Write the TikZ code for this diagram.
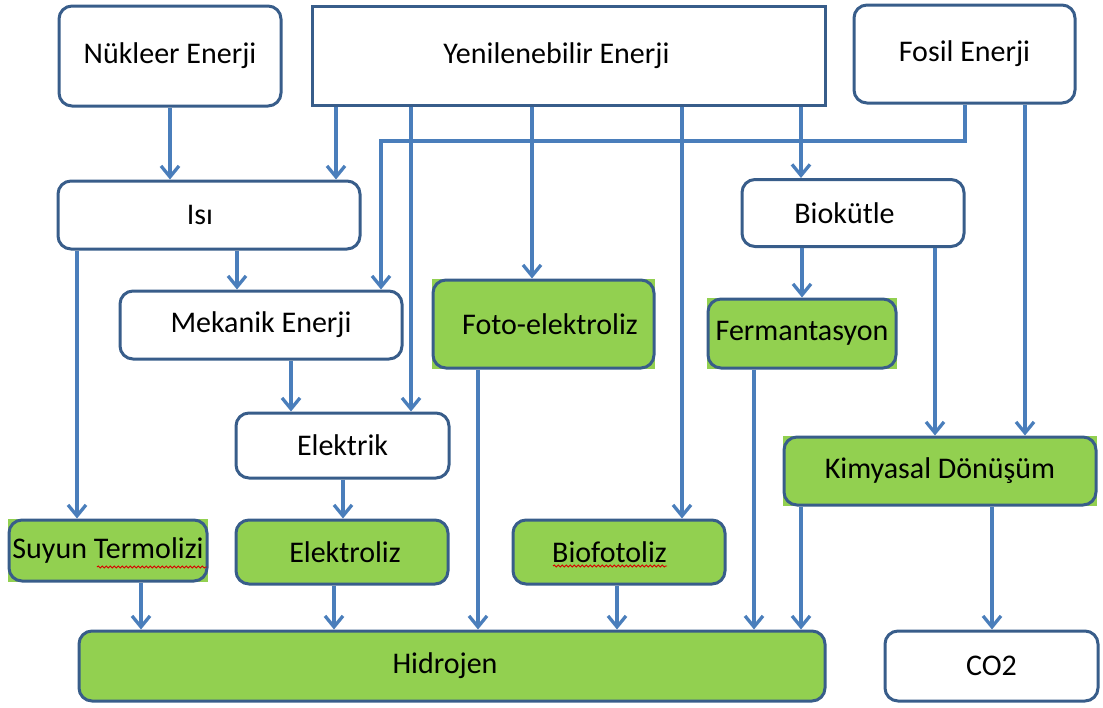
\documentclass[tikz,border=0pt]{standalone}
\usepackage{fontspec}
\setmainfont{Carlito}
\usetikzlibrary{arrows.meta,decorations.pathmorphing}
\definecolor{bord}{RGB}{56,93,138}
\definecolor{arrc}{RGB}{74,126,187}
\definecolor{grn}{RGB}{146,208,80}
\begin{document}
\begin{tikzpicture}[x=1pt,y=-1pt,
 box/.style={draw=bord, line width=3pt, rounded corners=13pt, fill=white, inner sep=0pt, font=\fontsize{30}{36}\selectfont, text=black},
 gbox/.style={box, fill=grn},
 arr/.style={draw=arrc, line width=3.3pt, -{Straight Barb[length=11pt,width=18pt]}},
 squig/.style={draw=red!85!black, line width=0.9pt, decorate, decoration={snake, amplitude=1pt, segment length=4pt}}]
\useasboundingbox (0,0) rectangle (1103,707);
% green backgrounds behind some rounded boxes
\fill[grn] (432,279) rectangle (655,369);
\fill[grn] (707,298) rectangle (897,369);
\fill[grn] (783,436) rectangle (1097,506);
\fill[grn] (8,519) rectangle (208,582);
% nodes
\node[box, minimum width=222pt, minimum height=100pt] (nuk) at (170,56) {Nükleer Enerji};
\node[box, rounded corners=0pt, minimum width=513pt, minimum height=99pt] (yen) at (568.5,55.5) {\hspace*{-24pt}Yenilenebilir Enerji};
\node[box, minimum width=221pt, minimum height=98pt] (fos) at (964.5,54) {Fosil Enerji};
\node[box, minimum width=302pt, minimum height=68pt] (isi) at (209,215) {\hspace*{-18pt}Isı};
\node[box, minimum width=222pt, minimum height=67pt] (bio) at (853,213) {\hspace*{-17pt}Biokütle};
\node[box, minimum width=282pt, minimum height=68pt] (mek) at (261,325) {Mekanik Enerji};
\node[gbox, minimum width=221pt, minimum height=88pt] (foto) at (543.5,324) {\hspace*{13pt}Foto-elektroliz};
\node[gbox, minimum width=188pt, minimum height=69pt] (ferm) at (802,333.5) {Fermantasyon};
\node[box, minimum width=213pt, minimum height=65pt] (elk) at (342.5,445.5) {Elektrik};
\node[gbox, minimum width=312pt, minimum height=68pt] (kim) at (940,471) {Kimyasal Dönüşüm};
\node[gbox, minimum width=198pt, minimum height=61pt] (suy) at (108,550.5) {Suyun Termolizi};
\node[gbox, minimum width=212pt, minimum height=64pt] (elz) at (342,552) {\hspace*{6pt}Elektroliz};
\node[gbox, minimum width=212pt, minimum height=64pt] (biof) at (619,552) {\hspace*{-19pt}Biofotoliz};
\node[gbox, minimum width=746pt, minimum height=70pt] (hid) at (452,666) {\hspace*{-14pt}Hidrojen};
\node[box, minimum width=213pt, minimum height=70pt] (co2) at (991.5,666) {CO2};
% spell-check squiggles
\draw[squig] (97,567) -- (207,567);
\draw[squig] (553,566) -- (667,566);
% connectors
\draw[arr] (170,0 |- nuk.south) -- (170,0 |- isi.north);
\draw[arr] (336,0 |- yen.south) -- (336,0 |- isi.north);
\draw[arr] (411,0 |- yen.south) -- (411,0 |- elk.north);
\draw[arr] (532,0 |- yen.south) -- (532,0 |- foto.north);
\draw[arr] (682,0 |- yen.south) -- (682,0 |- biof.north);
\draw[arr] (801,0 |- yen.south) -- (801,0 |- bio.north);
\draw[arr] (965,0 |- fos.south) |- (381,141) -- (381,0 |- mek.north);
\draw[arr] (1025,0 |- fos.south) -- (1025,0 |- kim.north);
\draw[arr] (237,0 |- isi.south) -- (237,0 |- mek.north);
\draw[arr] (77,0 |- isi.south) -- (77,0 |- suy.north);
\draw[arr] (291,0 |- mek.south) -- (291,0 |- elk.north);
\draw[arr] (343,0 |- elk.south) -- (343,0 |- elz.north);
\draw[arr] (802,0 |- bio.south) -- (802,0 |- ferm.north);
\draw[arr] (935,0 |- bio.south) -- (935,0 |- kim.north);
\draw[arr] (478,0 |- foto.south) -- (478,0 |- hid.north);
\draw[arr] (754,0 |- ferm.south) -- (754,0 |- hid.north);
\draw[arr] (801,0 |- kim.south) -- (801,0 |- hid.north);
\draw[arr] (992,0 |- kim.south) -- (992,0 |- co2.north);
\draw[arr] (141,0 |- suy.south) -- (141,0 |- hid.north);
\draw[arr] (334,0 |- elz.south) -- (334,0 |- hid.north);
\draw[arr] (617,0 |- biof.south) -- (617,0 |- hid.north);
\end{tikzpicture}
\end{document}
